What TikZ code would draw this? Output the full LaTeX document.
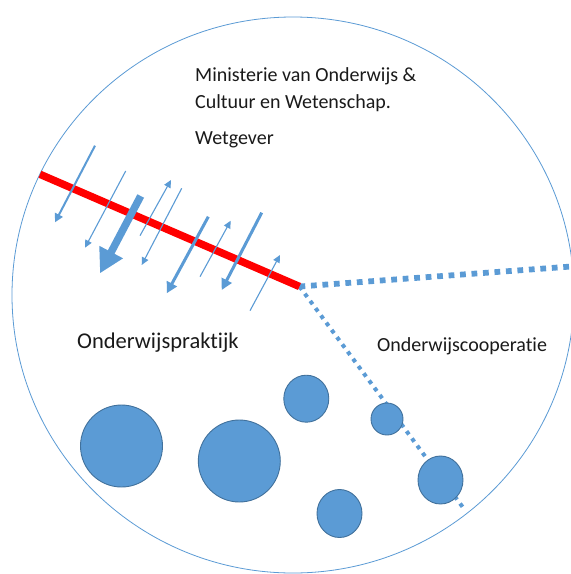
\documentclass[tikz,border=0pt]{standalone}
\usepackage{fontspec}
\setmainfont[Ligatures={NoCommon}]{Carlito}
\usetikzlibrary{arrows.meta}
\definecolor{obl}{HTML}{5B9BD5}
\definecolor{obd}{HTML}{41719C}
\definecolor{txt}{HTML}{1A1A1A}
\tikzset{
  thinarr/.style={draw=obl, line width=1.1pt, -{Triangle[length=7.5pt,width=7pt]}},
  midarr/.style={draw=obl, line width=3pt, -{Triangle[length=11pt,width=11pt]}},
  smallarr/.style={draw=obl, line width=2pt, -{Triangle[length=8.5pt,width=8.5pt]}},
  bigarr/.style={draw=obl, line width=7.5pt, -{Triangle[length=24pt,width=25pt]}},
  blob/.style={fill=obl, draw=obd, line width=0.9pt},
  lbl/.style={anchor=base west, inner sep=0pt, text=txt},
}
\begin{document}
\begin{tikzpicture}[x=1pt,y=-1pt]
\clip (0,0) rectangle (571,574);
\fill[white] (0,0) rectangle (571,574);
% big circle
\draw[obl, line width=0.8pt] (293,295) ellipse [x radius=281, y radius=278];
% key points
\coordinate (rl) at (40,174.3);
\coordinate (hub) at (299.5,286.5);
\coordinate (hr) at (574,266.3);
\coordinate (dr) at (463,507.5);
% dotted lines
\draw[obl, line width=5.75pt, dash pattern=on 5.75pt off 5.75pt] (hub) -- (hr);
\draw[obl, line width=4pt, dash pattern=on 4pt off 5pt] (hub) -- (dr);
% red line
\draw[red, line width=7.5pt] (rl) -- (hub);
% arrows
\coordinate (as) at (95,145.7);   \coordinate (ae) at (55,222.3);
\coordinate (bs) at (125.7,171);  \coordinate (be) at (85,247.7);
\coordinate (cs) at (140.7,196);  \coordinate (ce) at (100,273.3);
\coordinate (ds) at (140,235.7);  \coordinate (de) at (171,180);
\coordinate (es) at (181.7,188.3);\coordinate (ee) at (141.7,265);
\coordinate (fs) at (208.3,216.7);\coordinate (fe) at (166.7,293.3);
\coordinate (gs) at (200,276.7);  \coordinate (ge) at (230.7,220.7);
\coordinate (hs) at (261.7,212.7);\coordinate (he) at (221.7,290);
\coordinate (is) at (250,310.7);  \coordinate (ie) at (280,255);
\draw[smallarr] (as) -- (ae);
\draw[thinarr] (bs) -- (be);
\draw[bigarr] (cs) -- (ce);
\draw[thinarr] (ds) -- (de);
\draw[thinarr] (es) -- (ee);
\draw[midarr] (fs) -- (fe);
\draw[thinarr] (gs) -- (ge);
\draw[midarr] (hs) -- (he);
\draw[thinarr] (is) -- (ie);
% circles
\path[blob] (121.5,446) ellipse [x radius=41, y radius=41];
\path[blob] (239.3,461) ellipse [x radius=41, y radius=41];
\path[blob] (306.3,398.7) ellipse [x radius=22.5, y radius=23.5];
\path[blob] (387,419) ellipse [x radius=16, y radius=16];
\path[blob] (339.5,513.5) ellipse [x radius=22.5, y radius=24];
\path[blob] (440.5,480) ellipse [x radius=22.5, y radius=24];
% texts
\node[lbl, font=\fontsize{20}{24}\selectfont] (t1) at (195,81.7) {Ministerie van Onderwijs \&};
\node[lbl, font=\fontsize{20}{24}\selectfont] (t2) at (195,108.3) {Cultuur en Wetenschap.};
\node[lbl, font=\fontsize{20}{24}\selectfont] (t3) at (195,144.5) {Wetgever};
\node[lbl, font=\fontsize{22.5}{27}\selectfont] (t4) at (77,348.3) {Onderwijspraktijk};
\node[lbl, font=\fontsize{20}{24}\selectfont] (t5) at (377,351.7) {Onderwijscooperatie};
\end{tikzpicture}
\end{document}
